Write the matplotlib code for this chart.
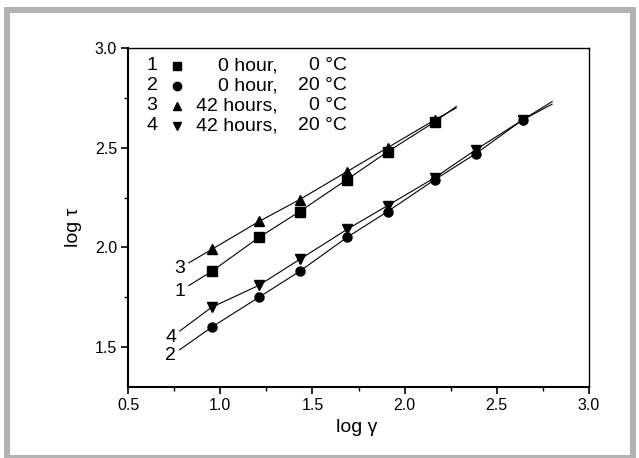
import numpy as np
import matplotlib.pyplot as plt
from matplotlib.patches import Rectangle

plt.rcParams['font.family'] = ['Liberation Sans', 'DejaVu Sans']

# log of shear rate (common for all series)
log_gamma = [0.954, 1.210, 1.431, 1.687, 1.908, 2.164, 2.386, 2.641]

# log of shear stress
s1 = [1.88, 2.05, 2.18, 2.34, 2.48, 2.63]                    # 0 hour, 0 C
s2 = [1.60, 1.75, 1.88, 2.05, 2.18, 2.34, 2.47, 2.64]        # 0 hour, 20 C
s3 = [1.99, 2.13, 2.24, 2.38, 2.50, 2.64]                    # 42 hours, 0 C
s4 = [1.70, 1.81, 1.94, 2.09, 2.21, 2.35, 2.49, 2.64]        # 42 hours, 20 C

series = [
    ('1', 's', s1, (0.83, 2.28)),
    ('2', 'o', s2, (0.78, 2.80)),
    ('3', '^', s3, (0.83, 2.28)),
    ('4', 'v', s4, (0.78, 2.80)),
]
legend_txt = [('0 hour,', '0 °C'), ('0 hour,', '20 °C'),
              ('42 hours,', '0 °C'), ('42 hours,', '20 °C')]

fig = plt.figure(figsize=(6.39, 4.58), dpi=100)
ax = fig.add_axes([128 / 639, 1 - 387 / 458, 461 / 639, 339 / 458])

for num, mk, y, (x0, x1) in series:
    x = np.array(log_gamma[:len(y)])
    y = np.array(y)
    k, b = np.polyfit(x, y, 1)
    lx = np.concatenate([[x0], x, [x1]])
    ly = np.concatenate([[k * x0 + b], y, [k * x1 + b]])
    ax.plot(lx, ly, color='black', lw=0.8)
    ax.plot(x, y, ls='none', marker=mk, ms=6.5, color='black')
    ax.annotate(num, (x0, k * x0 + b), xytext=(-9, -6), textcoords='offset pixels',
                ha='center', va='center', fontsize=14)

# legend made of text rows
rows_y = [0.948, 0.888, 0.829, 0.770]
for (num, mk, _, _), (t1, t2), yy in zip(series, legend_txt, rows_y):
    ax.text(0.052, yy, num, transform=ax.transAxes, ha='center', va='center', fontsize=14)
    ax.plot([0.106], [yy], transform=ax.transAxes, marker=mk, ms=6, color='black')
    ax.text(0.325, yy, t1, transform=ax.transAxes, ha='right', va='center', fontsize=14)
    ax.text(0.475, yy, t2, transform=ax.transAxes, ha='right', va='center', fontsize=14)

ax.set_xlim(0.5, 3.0)
ax.set_ylim(1.3, 3.0)
ax.set_xticks(np.arange(0.5, 3.01, 0.5))
ax.set_xticks(np.arange(0.75, 3.0, 0.5), minor=True)
ax.set_yticks([1.5, 2.0, 2.5, 3.0])
ax.set_yticks([1.75, 2.25, 2.75], minor=True)
ax.set_xticklabels(['0.5', '1.0', '1.5', '2.0', '2.5', '3.0'])
ax.set_yticklabels(['1.5', '2.0', '2.5', '3.0'])
ax.tick_params(which='major', direction='out', length=5, width=1.2, labelsize=11.5, pad=3)
ax.tick_params(which='minor', direction='out', length=3, width=1.0)

for side in ['left', 'bottom']:
    ax.spines[side].set_linewidth(1.5)
for side in ['top', 'right']:
    ax.spines[side].set_linewidth(1.0)

ax.set_xlabel('log γ', fontsize=14)
ax.set_ylabel('log τ', fontsize=14)
ax.xaxis.set_label_coords(0.497, -0.095)
ax.yaxis.set_label_coords(-0.10, 0.47)

# gray frame around the figure
fig.patches.append(Rectangle((6.5 / 639, 0), (633 - 6.5) / 639, 1 - 10 / 458,
                             transform=fig.transFigure, fill=False,
                             edgecolor='#b3b3b3', lw=4.3))

fig.savefig('out.png', dpi=100)
